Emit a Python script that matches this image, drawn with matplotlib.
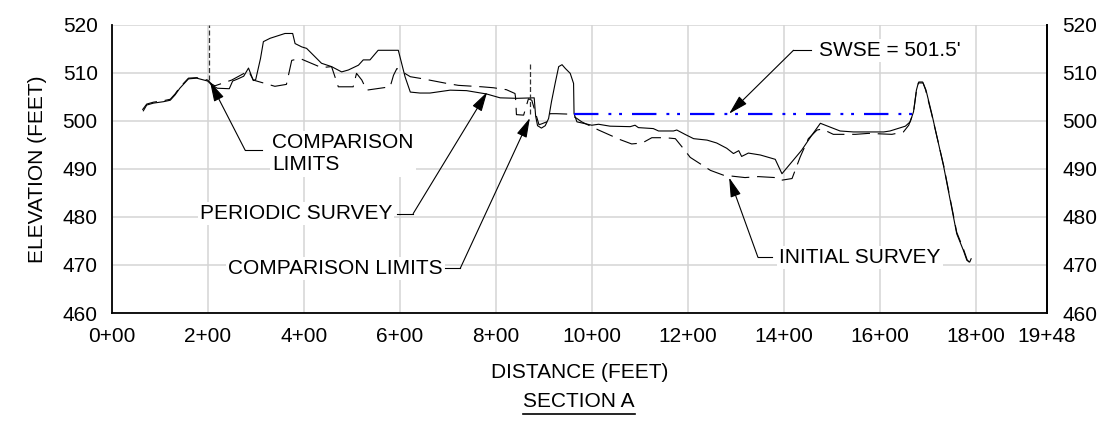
import matplotlib
matplotlib.use("Agg")
import matplotlib.pyplot as plt
from matplotlib.lines import Line2D

plt.rcParams["font.family"] = ["Liberation Sans", "DejaVu Sans"]
plt.rcParams["font.size"] = 15

# periodic survey (solid)
periodic_sta = [66, 73, 87, 108, 122, 132, 142, 160, 177, 200, 208, 220, 245, 252,
                262, 275, 285, 295, 300, 310, 316, 330, 361, 377, 382, 396, 406, 437,
                458, 479, 493, 514, 524, 538, 555, 597, 611, 622, 642, 663, 705, 739,
                781, 809, 844, 880, 883, 887, 895, 903, 910, 916, 924, 931, 938, 945,
                955, 962, 963, 969, 1000, 1014, 1038, 1080, 1090, 1097, 1128, 1139,
                1170, 1177, 1194, 1212, 1240, 1260, 1281, 1295, 1306, 1312, 1326, 1351,
                1382, 1396, 1437, 1458, 1476, 1517, 1545, 1608, 1621, 1653, 1663, 1670,
                1676, 1680, 1690, 1696, 1708, 1733, 1760, 1774, 1781, 1787, 1790]
periodic_elev = [502.1, 503.3, 503.7, 504.0, 504.3, 505.4, 506.8, 508.75, 508.9, 508.3,
                 507.5, 506.8, 506.7, 508.3, 508.7, 509.3, 511.0, 508.4, 508.6, 513.0,
                 516.5, 517.2, 518.2, 518.2, 516.1, 515.4, 515.1, 512.0, 511.3, 510.2,
                 510.6, 511.6, 512.7, 512.7, 514.7, 514.7, 509.2, 506.0, 505.8, 505.8,
                 506.4, 506.3, 505.6, 504.8, 504.7, 504.8, 501.0, 499.0, 498.5, 499.0,
                 500.5, 504.0, 508.0, 511.3, 511.7, 510.9, 509.9, 507.8, 501.5, 499.8,
                 499.1, 499.3, 498.9, 498.8, 499.1, 498.6, 498.4, 497.9, 497.9, 498.1,
                 497.2, 496.3, 496.0, 495.4, 494.3, 493.2, 493.8, 492.6, 493.3, 492.9,
                 492.0, 489.0, 493.9, 497.0, 499.5, 497.9, 497.7, 497.7, 497.9, 498.9,
                 499.8, 501.9, 506.4, 507.9, 507.9, 506.4, 501.5, 490.4, 476.5, 473.0,
                 471.0, 470.6, 471.3]

# initial survey (dashed)
initial_sta = [64, 73, 87, 108, 122, 132, 142, 160, 177, 200, 208, 215, 250, 285, 295,
               340, 364, 375, 392, 437, 458, 472, 490, 503, 510, 521, 531, 580, 587, 594,
               622, 646, 698, 722, 771, 795, 822, 840, 841, 842, 843, 858, 868, 875, 882,
               890, 896, 906, 913, 926, 955, 969, 979, 1014, 1059, 1083, 1105, 1125,
               1153, 1174, 1191, 1205, 1247, 1274, 1319, 1347, 1382, 1392, 1417, 1434,
               1451, 1469, 1480, 1503, 1549, 1576, 1625, 1649, 1660, 1670, 1676, 1681,
               1689, 1695, 1708, 1733, 1760, 1774, 1782, 1786]
initial_elev = [502.3, 503.5, 503.9, 504.2, 504.5, 505.6, 507.0, 508.9, 509.0, 508.5,
                507.7, 507.3, 508.5, 510.4, 508.5, 507.2, 507.6, 512.6, 513.0, 511.1,
                511.3, 507.1, 507.1, 507.1, 509.9, 508.5, 506.4, 507.1, 509.5, 510.9,
                509.2, 508.8, 507.8, 507.4, 507.1, 506.9, 506.5, 505.7, 505.0, 503.3,
                501.3, 501.2, 504.6, 504.3, 501.9, 499.2, 499.4, 499.8, 501.5, 501.5,
                501.4, 500.5, 499.8, 498.1, 496.1, 495.2, 495.4, 496.5, 496.5, 496.3,
                494.2, 492.4, 489.7, 488.7, 488.2, 488.4, 488.2, 487.6, 488.0, 492.5,
                496.3, 498.1, 498.3, 497.2, 497.2, 497.4, 497.2, 497.7, 499.1, 501.8,
                506.2, 508.1, 508.1, 506.5, 501.3, 490.6, 476.8, 473.3, 471.0, 470.6]

swse_elev = 501.5
swse_sta = [963, 1670]

limit_sta = [203, 871]
limit_bot = [508.5, 501.5]
limit_top = [520.0, 512.3]

x_ticks = [0, 200, 400, 600, 800, 1000, 1200, 1400, 1600, 1800, 1948]
y_ticks = [460, 470, 480, 490, 500, 510, 520]


def station(v):
    return f"{v // 100}+{v % 100:02d}"


fig = plt.figure(figsize=(11.11, 4.23), dpi=100)
ax = fig.add_axes([0.1005, 0.26, 0.8419, 0.6813])

ax.plot(periodic_sta, periodic_elev, color="black", lw=0.8, zorder=3)
ax.plot(initial_sta, initial_elev, color="black", lw=0.8,
        linestyle=(0, (16, 7)), zorder=3)
ax.plot(swse_sta, [swse_elev, swse_elev], color="#0000ff", lw=1.6,
        linestyle=(0, (11, 4.5, 1.3, 3.5, 1.3, 4.5)), zorder=3)
ax.vlines(limit_sta, limit_bot, limit_top, colors="#333333", lw=0.9,
          linestyles=(0, (4, 2)), zorder=3)

ax.set_xlim(0, 1948)
ax.set_ylim(460, 520)
ax.set_xticks(x_ticks)
ax.set_xticklabels([station(v) for v in x_ticks])
ax.set_yticks(y_ticks)
ax.grid(True, color="#d4d4d4", lw=1.1, zorder=0)
ax.tick_params(length=0, pad=10)
ax.spines["top"].set_visible(False)
for s in ["left", "bottom", "right"]:
    ax.spines[s].set_linewidth(1.3)

ax2 = ax.twinx()
ax2.set_ylim(460, 520)
ax2.set_yticks(y_ticks)
ax2.tick_params(length=0, pad=11)
for s in ["left", "top", "bottom"]:
    ax2.spines[s].set_visible(False)
ax2.spines["right"].set_linewidth(1.3)

ax.set_ylabel("ELEVATION (FEET)", labelpad=11)
ax.set_xlabel("DISTANCE (FEET)", labelpad=12)

box = dict(facecolor="white", edgecolor="none", pad=1.5)
arrow = dict(arrowstyle="-|>,head_length=0.8,head_width=0.22", color="black",
             lw=0.8, shrinkA=0, shrinkB=0, mutation_scale=15)


def callout(text, tip, corner, end, tx, ty, ha):
    ax.annotate("", xy=tip, xytext=corner, arrowprops=arrow, zorder=5)
    ax.plot([corner[0], end], [corner[1], corner[1]], color="black", lw=0.8, zorder=5)
    ax.text(tx, ty, text, ha=ha, va="center", bbox=box, zorder=4,
            linespacing=1.25)


callout("COMPARISON\nLIMITS", (205, 508.1), (278, 493.9), 313, 334, 493.2, "left")
callout("PERIODIC SURVEY", (782, 506.0), (628, 480.7), 594, 584, 480.7, "right")
callout("COMPARISON LIMITS", (871, 500.6), (726, 469.3), 694, 690, 469.3, "right")
callout("SWSE = 501.5'", (1286, 501.5), (1420, 514.7), 1456, 1474, 514.7, "left")
callout("INITIAL SURVEY", (1286, 488.2), (1346, 471.6), 1375, 1390, 471.6, "left")

# underlined section title
title = fig.text(0.521, 0.038, "SECTION A", ha="center", va="baseline")
fig.canvas.draw()
bb = title.get_window_extent()
inv = fig.transFigure.inverted()
(x0, y0), (x1, y1) = inv.transform([(bb.x0, bb.y0 - 1), (bb.x1, bb.y0 - 1)])
fig.add_artist(Line2D([x0, x1], [y0 - 0.004, y1 - 0.004], color="black", lw=1.2,
                      transform=fig.transFigure))

fig.savefig("out.png", dpi=100)
